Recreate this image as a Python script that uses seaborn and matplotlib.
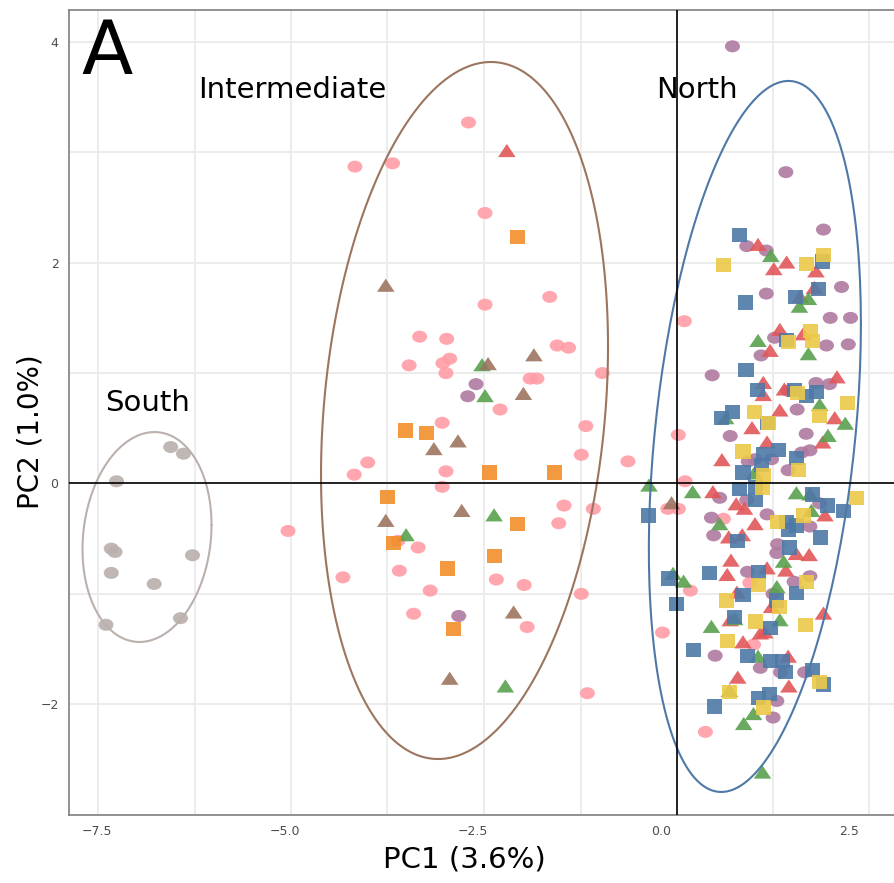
import numpy as np
import pandas as pd
import matplotlib
matplotlib.use('Agg')
import matplotlib.pyplot as plt
from matplotlib.path import Path
from matplotlib.transforms import Affine2D
import seaborn as sns

# PCA scores, one pair of lists per population
grey_pc1 = [-6.52, -6.35, -7.24, -7.31, -7.26, -6.23, -7.31, -6.74, -7.38, -6.39]
grey_pc2 = [0.33, 0.27, 0.02, -0.59, -0.62, -0.65, -0.81, -0.91, -1.28, -1.22]

pink_pc1 = [-2.56, -4.07, -3.57, -2.34, -2.34, -1.48, -3.21, -2.85, -1.38, -1.23, -2.81, -2.90,
            -3.35, -2.86, -1.74, -1.65, -0.78, -2.14, -2.91, -1.00, -3.90, -4.08, -2.86, -1.06,
            -0.44, -2.91, -1.29, -0.90, -1.36, -3.50, -3.23, -4.23, -3.48, -2.19, -1.82, -3.07,
            -1.06, -3.29, -1.78, -0.98, -4.96, 0.31, 0.23, 0.32, 0.09, 0.23, 0.83, 1.18, 0.39,
            0.02, 1.23, 0.59]
pink_pc2 = [3.27, 2.87, 2.90, 2.45, 1.62, 1.69, 1.33, 1.31, 1.25, 1.23, 1.13, 1.09,
            1.07, 1.00, 0.95, 0.95, 1.00, 0.67, 0.55, 0.52, 0.19, 0.08, 0.11, 0.26,
            0.20, -0.03, -0.20, -0.23, -0.36, -0.52, -0.58, -0.85, -0.79, -0.87, -0.92, -0.97,
            -1.00, -1.18, -1.30, -1.90, -0.43, 1.47, 0.44, 0.02, -0.23, -0.23, -0.32, -0.90, -0.97,
            -1.35, -1.46, -2.25]

purple_pc1 = [0.95, 1.66, 2.16, 1.14, 1.40, 1.40, 2.40, 2.25, 2.52, 1.51, 2.20, 2.49, 1.33,
              0.68, 2.06, 2.24, 1.69, 1.81, 0.92, 1.93, 1.16, 1.25, 1.47, 1.87, 1.98, 1.69,
              0.78, 1.14, 2.11, 0.67, 1.41, 1.98, 0.70, 1.55, 1.54, 1.15, 1.77, 1.98, 1.49,
              0.72, 1.32, 1.59, 1.91, 1.54, 1.49, -2.46, -2.57, -2.69]
purple_pc2 = [3.96, 2.82, 2.30, 2.15, 2.11, 1.72, 1.78, 1.50, 1.50, 1.32, 1.25, 1.26, 1.16,
              0.98, 0.91, 0.90, 0.84, 0.67, 0.43, 0.45, 0.20, 0.22, 0.22, 0.28, 0.30, 0.12,
              -0.13, -0.15, -0.18, -0.31, -0.28, -0.39, -0.47, -0.55, -0.63, -0.80, -0.89, -0.84, -1.00,
              -1.56, -1.67, -1.71, -1.71, -1.97, -2.12, 0.90, 0.79, -1.20]

red_pc1 = [-2.05, 1.29, 1.67, 1.50, 2.06, 2.04, 1.85, 1.58, 1.89, 1.45, 2.34, 1.36, 1.64,
           1.36, 1.58, 2.31, 1.21, 1.41, 2.15, 0.81, 0.69, 1.00, 1.11, 1.25, 2.18, 0.90,
           1.08, 1.80, 1.97, 0.93, 1.41, 0.88, 1.66, 1.01, 1.47, 0.92, 2.16, 1.32, 1.38,
           1.09, 1.69, 1.02, 1.70]
red_pc2 = [3.00, 2.15, 1.99, 1.93, 1.91, 1.76, 1.68, 1.38, 1.34, 1.19, 0.95, 0.90, 0.84,
           0.79, 0.65, 0.58, 0.49, 0.36, 0.36, 0.20, -0.09, -0.20, -0.24, -0.38, -0.30, -0.50,
           -0.48, -0.65, -0.66, -0.71, -0.78, -0.84, -0.80, -1.00, -1.13, -1.25, -1.19, -1.37, -1.36,
           -1.45, -1.58, -1.77, -1.85]

green_pc1 = [-2.38, -2.34, -2.22, -3.39, -2.07, 1.46, 1.96, 1.84, 1.29, 1.96, 2.11, 0.86, 2.45,
             2.22, 1.24, -0.16, 0.42, 1.80, 1.98, 2.00, 0.78, 1.63, 0.16, 0.30, 1.54, 0.98,
             1.58, 0.67, 1.29, 0.91, 1.23, 1.10, 1.35]
green_pc2 = [1.06, 0.78, -0.30, -0.48, -1.85, 2.05, 1.66, 1.59, 1.28, 1.16, 0.70, 0.58, 0.53,
             0.42, 0.08, -0.03, -0.09, -0.10, -0.11, -0.26, -0.38, -0.72, -0.83, -0.90, -0.95, -1.24,
             -1.25, -1.31, -1.58, -1.89, -2.10, -2.19, -2.63]

brown_pc1 = [-3.66, -2.30, -1.69, -1.83, -2.70, -3.02, -2.65, -3.66, -1.96, -2.81, 0.14]
brown_pc2 = [1.78, 1.07, 1.15, 0.80, 0.37, 0.30, -0.26, -0.35, -1.18, -1.78, -0.19]

orange_pc1 = [-1.91, -3.40, -3.12, -2.28, -1.42, -3.64, -1.91, -3.56, -2.21, -2.84, -2.76]
orange_pc2 = [2.23, 0.48, 0.46, 0.10, 0.10, -0.12, -0.37, -0.54, -0.66, -0.77, -1.32]

blue_pc1 = [1.04, 2.15, 1.12, 1.79, 2.09, 1.67, 1.13, 1.28, 2.07, 1.78, 1.93, 0.95, 0.81,
            1.41, 1.56, 1.36, 1.80, 1.09, 1.34, 1.05, 1.26, 1.25, 2.02, 2.21, 2.43, -0.17,
            1.67, 1.80, 1.69, 2.12, 1.02, 1.71, 0.64, 1.29, 0.10, 1.09, 1.80, 1.54, 0.20,
            0.98, 1.45, 0.43, 1.15, 1.45, 1.62, 1.65, 2.02, 2.16, 1.29, 1.44, 0.71]
blue_pc2 = [2.25, 2.01, 1.64, 1.69, 1.76, 1.30, 1.03, 0.85, 0.83, 0.85, 0.79, 0.65, 0.59,
            0.55, 0.30, 0.27, 0.23, 0.10, 0.17, -0.05, -0.03, -0.15, -0.10, -0.20, -0.25, -0.29,
            -0.35, -0.38, -0.42, -0.49, -0.52, -0.58, -0.81, -0.80, -0.86, -1.01, -0.99, -1.06, -1.09,
            -1.21, -1.31, -1.51, -1.56, -1.61, -1.61, -1.71, -1.69, -1.82, -1.94, -1.91, -2.02]

yellow_pc1 = [0.83, 1.94, 2.16, 1.99, 2.02, 1.69, 1.81, 2.48, 1.24, 1.43, 2.11, 1.09, 1.83,
              1.36, 1.35, 2.60, 1.89, 1.55, 1.29, 1.93, 0.87, 1.58, 1.26, 1.92, 0.89, 0.91,
              2.11, 1.36]
yellow_pc2 = [1.98, 1.99, 2.07, 1.38, 1.29, 1.28, 0.82, 0.73, 0.65, 0.55, 0.61, 0.29, 0.12,
              0.08, -0.04, -0.13, -0.29, -0.35, -0.92, -0.89, -1.06, -1.12, -1.25, -1.28, -1.43, -1.89,
              -1.80, -2.03]

# 95% ellipses of the three regions: centre and covariance (PC1, PC2)
region_names = ['South', 'Intermediate', 'North']
region_centres = [(-6.835, -0.485), (-2.613, 0.661), (1.248, 0.426)]
region_covs = [[[0.736, 0.095], [0.095, 0.904]],
               [[3.641, 1.111], [1.111, 9.966]],
               [[1.988, 1.439], [1.439, 10.37]]]
region_label_pos = [(-6.83, 0.66), (-4.90, 3.49), (0.48, 3.49)]

# build the long table
pops = {
    'grey': (grey_pc1, grey_pc2, 'circle'),
    'pink': (pink_pc1, pink_pc2, 'circle'),
    'purple': (purple_pc1, purple_pc2, 'circle'),
    'red': (red_pc1, red_pc2, 'triangle'),
    'green': (green_pc1, green_pc2, 'triangle'),
    'brown': (brown_pc1, brown_pc2, 'triangle'),
    'orange': (orange_pc1, orange_pc2, 'square'),
    'blue': (blue_pc1, blue_pc2, 'square'),
    'yellow': (yellow_pc1, yellow_pc2, 'square'),
}
df = pd.concat([pd.DataFrame({'PC1': x, 'PC2': y, 'pop': k, 'shape': s})
                for k, (x, y, s) in pops.items()], ignore_index=True)

palette = {'grey': '#BAB0AC', 'pink': '#FF9DA7', 'purple': '#B07AA1',
           'red': '#E15759', 'green': '#59A14F', 'brown': '#9C755F',
           'orange': '#F28E2B', 'blue': '#4E79A7', 'yellow': '#EDC948'}
ellipse_colors = ['#BAB0AC', '#9C755F', '#4E79A7']

# slightly squashed marker shapes, as in the source
circle = Affine2D().scale(1, 0.8).transform_path(Path.unit_circle())
triangle = Path([(-1, -0.55), (1, -0.55), (0, 0.95), (-1, -0.55)], closed=True)
square = Path([(-1, -0.95), (1, -0.95), (1, 0.95), (-1, 0.95), (-1, -0.95)], closed=True)
markers = {'circle': circle, 'triangle': triangle, 'square': square}
sizes = {'circle': 117, 'triangle': 160, 'square': 117}

sns.set_style('white')
plt.rcParams['font.family'] = ['DejaVu Sans']
plt.rcParams['text.color'] = 'black'
plt.rcParams['axes.labelcolor'] = 'black'

fig = plt.figure(figsize=(8.94, 8.83), dpi=100)
ax = fig.add_axes([0.0772, 0.077, 0.9228, 0.9117])

sns.scatterplot(data=df, x='PC1', y='PC2', hue='pop', style='shape', size='shape',
                palette=palette, markers=markers, sizes=sizes, alpha=0.9,
                linewidth=0, legend=False, ax=ax, zorder=3)

# confidence ellipses
t = np.linspace(0, 2 * np.pi, 200)
circ = np.vstack([np.cos(t), np.sin(t)])
for (cx, cy), cov, col in zip(region_centres, region_covs, ellipse_colors):
    L = np.linalg.cholesky(np.array(cov))
    pts = L @ circ
    ax.plot(cx + pts[0], cy + pts[1], color=col, lw=1.5, zorder=4)

ax.axhline(0, color='black', lw=1.2, zorder=5)
ax.axvline(0.21, color='black', lw=1.2, zorder=5)

for name, (lx, ly) in zip(region_names, region_label_pos):
    ax.text(lx, ly, name, fontsize=21, ha='center', va='baseline', color='black', zorder=6)
ax.text(-7.37, 3.71, 'A', fontsize=54, ha='center', va='baseline', color='black', zorder=6)

ax.set_xlim(-7.872, 3.098)
ax.set_ylim(-3.003, 4.289)
ax.set_xticks([-7.5, -5.0, -2.5, 0.0, 2.5])
ax.set_yticks([-2, 0, 2, 4])
# the panel grid in the source is spaced a bit differently from the tick labels
ax.set_xticks([-7.48, -6.20, -4.92, -3.64, -2.35, -1.07, 0.21, 1.49, 2.77], minor=True)
ax.set_yticks([-3, -1, 1, 3], minor=True)
ax.grid(False)
ax.xaxis.grid(True, which='minor', color='#EBEBEB', lw=1.3)
ax.yaxis.grid(True, which='both', color='#EBEBEB', lw=1.3)
ax.set_axisbelow(True)

ax.tick_params(axis='both', which='major', length=4, width=1, color='#333333',
               labelcolor='#4D4D4D', labelsize=9, direction='out')
ax.tick_params(axis='both', which='minor', length=0)
for side in ['left', 'bottom', 'top']:
    ax.spines[side].set_color('#7F7F7F')
    ax.spines[side].set_linewidth(1.2)
ax.spines['right'].set_color('#E5E5E5')

ax.set_xlabel('PC1 (3.6%)', fontsize=21, va='top', color='black')
ax.set_ylabel('PC2 (1.0%)', fontsize=20, color='black')
ax.xaxis.set_label_coords(0.479, -0.038)
ax.yaxis.set_label_coords(-0.030, 0.476)

fig.savefig('out.png', dpi=100)
